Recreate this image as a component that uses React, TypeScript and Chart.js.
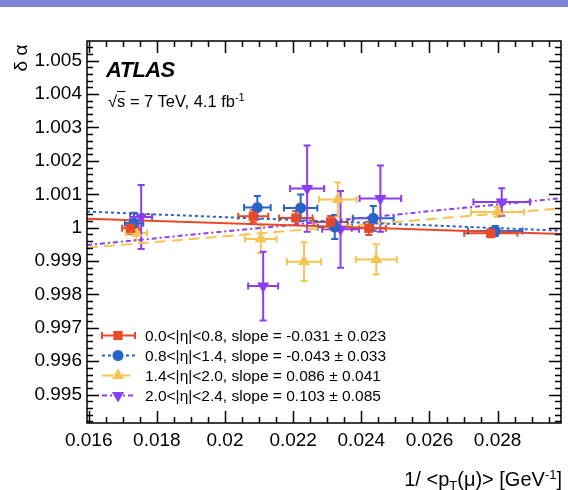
import React, { useEffect, useRef } from "react";
import { Chart, registerables } from "chart.js";

Chart.register(...registerables);

// ---- axes ----
const X_MIN = 0.01595;
const X_MAX = 0.02986;
const Y_MIN = 0.99415;
const Y_MAX = 1.00559;

const xTickValues = [0.016, 0.018, 0.02, 0.022, 0.024, 0.026, 0.028];
const xTickLabels = ["0.016", "0.018", "0.02", "0.022", "0.024", "0.026", "0.028"];
const yTickValues = [0.995, 0.996, 0.997, 0.998, 0.999, 1.0, 1.001, 1.002, 1.003, 1.004, 1.005];
const yTickLabels = ["0.995", "0.996", "0.997", "0.998", "0.999", "1", "1.001", "1.002", "1.003", "1.004", "1.005"];
const xMinorStep = 0.0005;
const yMinorStep = 0.0002;
const xMinorPerMajor = 4;
const yMinorPerMajor = 5;

// ---- legend ----
const seriesLabels = [
  "0.0<|η|<0.8, slope = -0.031 ± 0.023",
  "0.8<|η|<1.4, slope = -0.043 ± 0.033",
  "1.4<|η|<2.0, slope = 0.086 ± 0.041",
  "2.0<|η|<2.4, slope = 0.103 ± 0.085",
];
const seriesColors = ["#E8492A", "#2864C8", "#F6C453", "#8B3DF0"];

// ---- data: 0.0<|eta|<0.8 ----
const eta1X = [0.01723, 0.02083, 0.02208, 0.0231, 0.02422, 0.0278];
const eta1Y = [0.99998, 1.00034, 1.00029, 1.00017, 0.99998, 0.99983];
const eta1XErr = [0.00025, 0.00044, 0.00049, 0.0005, 0.0005, 0.00078];
const eta1YErr = [0.00017, 0.00018, 0.00021, 0.00018, 0.0002, 0.00012];

// ---- data: 0.8<|eta|<1.4 ----
const eta2X = [0.01733, 0.02095, 0.02222, 0.02322, 0.02435, 0.02793];
const eta2Y = [1.00013, 1.0006, 1.00059, 1.00002, 1.00028, 0.9999];
const eta2XErr = [0.00027, 0.00039, 0.00049, 0.0005, 0.0006, 0.0008];
const eta2YErr = [0.00032, 0.00035, 0.0004, 0.00036, 0.00037, 0.00015];

// ---- data: 1.4<|eta|<2.0 ----
const eta3X = [0.0174, 0.02105, 0.02232, 0.02331, 0.02444, 0.028];
const eta3Y = [0.99984, 0.99966, 0.99898, 1.00084, 0.99905, 1.00047];
const eta3XErr = [0.00031, 0.00046, 0.0005, 0.00055, 0.0006, 0.00078];
const eta3YErr = [0.00022, 0.00042, 0.00058, 0.00051, 0.00045, 0.00015];

// ---- data: 2.0<|eta|<2.4 ----
const eta4X = [0.01754, 0.02112, 0.02241, 0.02339, 0.02456, 0.02812];
const eta4Y = [1.00032, 0.99825, 1.00117, 0.99995, 1.00087, 1.00077];
const eta4XErr = [0.00032, 0.00044, 0.0005, 0.00054, 0.00061, 0.00083];
const eta4YErr = [0.00096, 0.00103, 0.00129, 0.00115, 0.00099, 0.00041];

// ---- linear fits (value at both ends of the x range) ----
const fitXEnds = [0.01595, 0.02986];
const fit1Y = [1.00027, 0.99981];
const fit2Y = [1.00048, 0.99991];
const fit3Y = [0.9994, 1.00058];
const fit4Y = [0.99948, 1.00088];

const series = [
  { x: eta1X, y: eta1Y, xErr: eta1XErr, yErr: eta1YErr, fit: fit1Y, style: "rect", radius: 6.5, rotation: 0, dash: [] as number[] },
  { x: eta2X, y: eta2Y, xErr: eta2XErr, yErr: eta2YErr, fit: fit2Y, style: "circle", radius: 5.5, rotation: 0, dash: [3, 3] },
  { x: eta3X, y: eta3Y, xErr: eta3XErr, yErr: eta3YErr, fit: fit3Y, style: "triangle", radius: 7, rotation: 0, dash: [11, 6] },
  { x: eta4X, y: eta4Y, xErr: eta4XErr, yErr: eta4YErr, fit: fit4Y, style: "triangle", radius: 7, rotation: 180, dash: [5, 3, 2, 3] },
];

const FONT = '"Liberation Sans", Arial, Helvetica, sans-serif';

function drawMarker(ctx: CanvasRenderingContext2D, style: string, rotation: number, r: number, x: number, y: number) {
  ctx.beginPath();
  if (style === "rect") {
    const s = r * Math.SQRT1_2;
    ctx.rect(x - s, y - s, 2 * s, 2 * s);
  } else if (style === "circle") {
    ctx.arc(x, y, r, 0, Math.PI * 2);
  } else {
    let rad = (rotation * Math.PI) / 180;
    ctx.moveTo(x + Math.sin(rad) * r, y - Math.cos(rad) * r);
    rad += (2 * Math.PI) / 3;
    ctx.lineTo(x + Math.sin(rad) * r, y - Math.cos(rad) * r);
    rad += (2 * Math.PI) / 3;
    ctx.lineTo(x + Math.sin(rad) * r, y - Math.cos(rad) * r);
    ctx.closePath();
  }
  ctx.fill();
}

const errorBarPlugin = {
  id: "errorBars",
  beforeDatasetsDraw(chart: any) {
    const { ctx, chartArea: a } = chart;
    const xs = chart.scales.x;
    const ys = chart.scales.y;
    ctx.save();
    ctx.beginPath();
    ctx.rect(a.left, a.top, a.right - a.left, a.bottom - a.top);
    ctx.clip();
    ctx.lineWidth = 2;
    series.forEach((s, i) => {
      ctx.strokeStyle = seriesColors[i];
      s.x.forEach((xv, j) => {
        const px = xs.getPixelForValue(xv);
        const py = ys.getPixelForValue(s.y[j]);
        const x0 = xs.getPixelForValue(xv - s.xErr[j]);
        const x1 = xs.getPixelForValue(xv + s.xErr[j]);
        const y0 = ys.getPixelForValue(s.y[j] - s.yErr[j]);
        const y1 = ys.getPixelForValue(s.y[j] + s.yErr[j]);
        ctx.beginPath();
        ctx.moveTo(x0, py); ctx.lineTo(x1, py);
        ctx.moveTo(px, y0); ctx.lineTo(px, y1);
        ctx.moveTo(x0, py - 3.5); ctx.lineTo(x0, py + 3.5);
        ctx.moveTo(x1, py - 3.5); ctx.lineTo(x1, py + 3.5);
        ctx.moveTo(px - 3.5, y0); ctx.lineTo(px + 3.5, y0);
        ctx.moveTo(px - 3.5, y1); ctx.lineTo(px + 3.5, y1);
        ctx.stroke();
      });
    });
    ctx.restore();
  },
};

const framePlugin = {
  id: "frame",
  afterDraw(chart: any) {
    const { ctx, chartArea: a } = chart;
    const xs = chart.scales.x;
    const ys = chart.scales.y;
    ctx.save();
    ctx.strokeStyle = "#000";
    ctx.lineWidth = 1.5;
    ctx.setLineDash([]);
    ctx.strokeRect(a.left, a.top, a.right - a.left, a.bottom - a.top);
    ctx.beginPath();
    const xi0 = Math.ceil(X_MIN / xMinorStep - 1e-6);
    const xi1 = Math.floor(X_MAX / xMinorStep + 1e-6);
    for (let i = xi0; i <= xi1; i++) {
      const px = Math.round(xs.getPixelForValue(i * xMinorStep)) + 0.5;
      const len = i % xMinorPerMajor === 0 ? 12 : 6;
      ctx.moveTo(px, a.bottom); ctx.lineTo(px, a.bottom - len);
      ctx.moveTo(px, a.top); ctx.lineTo(px, a.top + len);
    }
    const yi0 = Math.ceil(Y_MIN / yMinorStep - 1e-6);
    const yi1 = Math.floor(Y_MAX / yMinorStep + 1e-6);
    for (let i = yi0; i <= yi1; i++) {
      const py = Math.round(ys.getPixelForValue(i * yMinorStep)) + 0.5;
      const len = i % yMinorPerMajor === 0 ? 12 : 6;
      ctx.moveTo(a.left, py); ctx.lineTo(a.left + len, py);
      ctx.moveTo(a.right, py); ctx.lineTo(a.right - len, py);
    }
    ctx.stroke();

    // legend symbols
    const rowsY = [335.5, 355.5, 375.5, 395.5];
    series.forEach((s, i) => {
      const cy = rowsY[i];
      ctx.strokeStyle = seriesColors[i];
      ctx.fillStyle = seriesColors[i];
      ctx.lineWidth = 2;
      ctx.setLineDash(s.dash);
      ctx.beginPath();
      ctx.moveTo(102, cy); ctx.lineTo(135, cy);
      ctx.stroke();
      ctx.setLineDash([]);
      if (i === 0) {
        ctx.beginPath();
        ctx.moveTo(102, cy - 3.5); ctx.lineTo(102, cy + 3.5);
        ctx.moveTo(135, cy - 3.5); ctx.lineTo(135, cy + 3.5);
        ctx.stroke();
      }
      drawMarker(ctx, s.style, s.rotation, s.radius, 118, cy);
    });
    ctx.restore();
  },
};

export default function App() {
  const ref = useRef<HTMLCanvasElement>(null);

  useEffect(() => {
    const datasets: any[] = [];
    series.forEach((s, i) => {
      datasets.push({
        type: "line",
        data: fitXEnds.map((x, j) => ({ x, y: s.fit[j] })),
        borderColor: seriesColors[i],
        borderWidth: 2,
        borderDash: s.dash,
        pointRadius: 0,
        fill: false,
        order: 2,
      });
    });
    series.forEach((s, i) => {
      datasets.push({
        type: "scatter",
        data: s.x.map((x, j) => ({ x, y: s.y[j] })),
        pointStyle: s.style,
        pointRadius: s.radius,
        pointRotation: s.rotation,
        backgroundColor: seriesColors[i],
        borderColor: seriesColors[i],
        borderWidth: 0,
        order: 1,
      });
    });

    const chart = new Chart(ref.current as HTMLCanvasElement, {
      type: "scatter",
      data: { datasets },
      options: {
        animation: false,
        responsive: false,
        devicePixelRatio: 1,
        events: [],
        layout: { padding: { top: 41, right: 5, left: 0, bottom: 0 } },
        plugins: { legend: { display: false }, tooltip: { enabled: false } },
        scales: {
          x: {
            type: "linear",
            min: X_MIN,
            max: X_MAX,
            grid: { display: false, drawTicks: false },
            border: { display: false },
            afterBuildTicks: (s: any) => {
              s.ticks = xTickValues.map((v) => ({ value: v }));
            },
            afterFit: (s: any) => {
              s.height = 67;
            },
            ticks: {
              autoSkip: false,
              maxRotation: 0,
              padding: 6,
              color: "#000",
              font: { family: FONT, size: 19 },
              callback: (_v: any, i: number) => xTickLabels[i],
            },
          },
          y: {
            type: "linear",
            min: Y_MIN,
            max: Y_MAX,
            grid: { display: false, drawTicks: false },
            border: { display: false },
            afterBuildTicks: (s: any) => {
              s.ticks = yTickValues.map((v) => ({ value: v }));
            },
            afterFit: (s: any) => {
              s.width = 87;
            },
            ticks: {
              autoSkip: false,
              padding: 5,
              color: "#000",
              font: { family: FONT, size: 19 },
              callback: (_v: any, i: number) => yTickLabels[i],
            },
          },
        },
      } as any,
      plugins: [errorBarPlugin, framePlugin],
    });
    return () => chart.destroy();
  }, []);

  const legendBaselines = [341, 361, 381, 401.5];
  const lfs = 15.5;

  return (
    <div
      style={{
        position: "absolute",
        left: 0,
        top: 0,
        width: 568,
        height: 490,
        background: "#fff",
        overflow: "hidden",
        fontFamily: FONT,
        color: "#000",
      }}
    >
      <div style={{ position: "absolute", left: 0, top: 0, width: 568, height: 7, background: "#7D84D6" }} />
      <canvas ref={ref} width={568} height={490} style={{ position: "absolute", left: 0, top: 0 }} />
      <div
        style={{
          position: "absolute",
          left: 106,
          top: 78 - 0.8465 * 22,
          fontSize: 22,
          lineHeight: "22px",
          fontWeight: "bold",
          fontStyle: "italic",
          letterSpacing: -0.6,
          whiteSpace: "nowrap",
        }}
      >
        ATLAS
      </div>
      <div
        style={{
          position: "absolute",
          left: 108,
          top: 103 - 0.8465 * 16.5,
          fontSize: 16.5,
          lineHeight: "16.5px",
          whiteSpace: "nowrap",
        }}
      >
        √<span style={{ textDecoration: "overline" }}>s</span> = 7 TeV, 4.1 fb<sup style={{ fontSize: 11, verticalAlign: 6 }}>-1</sup>
      </div>
      {seriesLabels.map((t, i) => (
        <div
          key={i}
          style={{
            position: "absolute",
            left: 145,
            top: legendBaselines[i] - 0.8465 * lfs,
            fontSize: lfs,
            lineHeight: `${lfs}px`,
            whiteSpace: "nowrap",
          }}
        >
          {t}
        </div>
      ))}
      <div
        style={{
          position: "absolute",
          right: 6,
          top: 481.5 - 0.8465 * 20,
          fontSize: 20,
          lineHeight: "20px",
          whiteSpace: "nowrap",
        }}
      >
        1/ &lt;p<sub style={{ fontSize: 13, verticalAlign: -4 }}>T</sub>(μ)&gt; [GeV<sup style={{ fontSize: 13, verticalAlign: 7 }}>-1</sup>]
      </div>
      <div
        style={{
          position: "absolute",
          left: 20,
          top: 58,
          transform: "translate(-50%, -50%) rotate(-90deg)",
          fontSize: 19,
          lineHeight: "19px",
          whiteSpace: "nowrap",
        }}
      >
        δ α
      </div>
    </div>
  );
}
